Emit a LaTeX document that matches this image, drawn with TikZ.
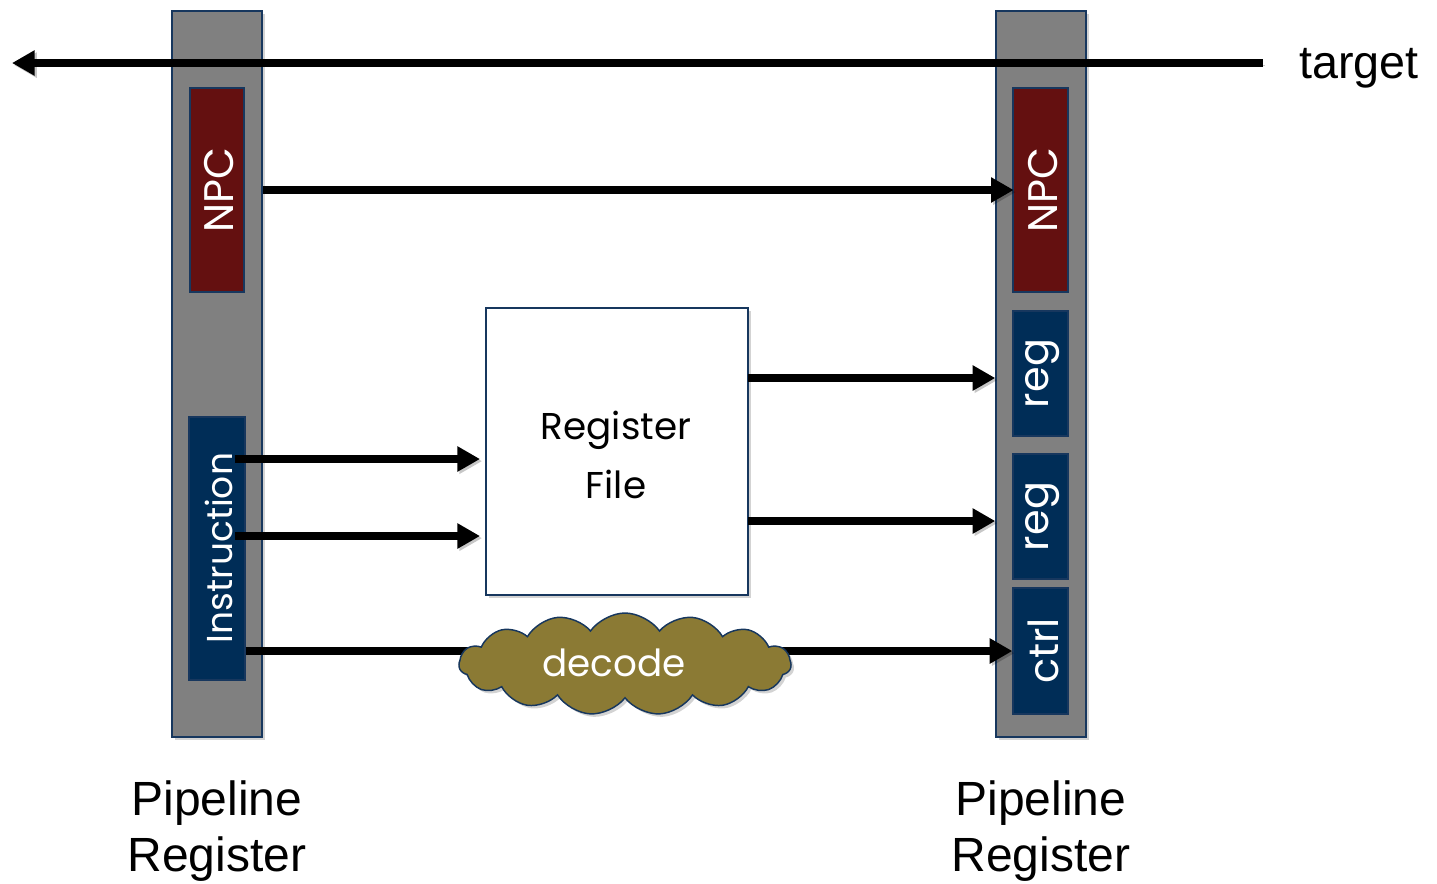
\documentclass[tikz,border=0pt]{standalone}
\usepackage{fontspec}
\setmainfont{Liberation Sans}
\newfontfamily\geo{Poppins}
\usetikzlibrary{arrows.meta,shapes.symbols,shadows}

\definecolor{edgeblue}{RGB}{23,55,94}
\definecolor{bargray}{RGB}{128,128,128}
\definecolor{npcred}{RGB}{100,16,16}
\definecolor{navy}{RGB}{0,45,87}
\definecolor{olive}{RGB}{139,122,52}

\tikzset{
  softshadow/.style={drop shadow={opacity=0.35,shadow xshift=2.2pt,shadow yshift=-2.2pt}},
  regbar/.style={draw=edgeblue, line width=1.1pt, fill=bargray, inner sep=0pt, softshadow},
  cell/.style={draw=edgeblue, line width=1pt, inner sep=0pt, softshadow},
  npccell/.style={cell, fill=npcred},
  navycell/.style={cell, fill=navy},
  vtext/.style={rotate=90, text=white, inner sep=0pt, font=\geo\fontsize{31}{34}\selectfont},
  caption/.style={align=center, font=\fontsize{36}{42.5}\selectfont},
  link/.style={line width=6.3pt, -{Triangle[length=17pt,width=18pt]},
    preaction={draw=black, opacity=0.22, transform canvas={xshift=1.6pt,yshift=-1.6pt}}},
}

\begin{document}
\begin{tikzpicture}[x=0.75pt,y=-0.75pt]
\useasboundingbox (0,0) rectangle (1437,883);

% pipeline register bars
\node[regbar, minimum width=90*0.75pt, minimum height=726*0.75pt] (lbar) at (217,374) {};
\node[regbar, minimum width=90*0.75pt, minimum height=726*0.75pt] (rbar) at (1041,374) {};

% left register fields
\node[npccell, minimum width=54*0.75pt, minimum height=204*0.75pt] (lnpc) at (217,190) {};
\node[vtext] (lnpctext) at (219,190) {NPC};
\node[navycell, minimum width=56*0.75pt, minimum height=263*0.75pt] (lins) at (217,548.5) {};
\node[vtext, font=\geo\fontsize{27}{30}\selectfont] (linstext) at (219,548) {Instruction};

% right register fields
\node[npccell, minimum width=55*0.75pt, minimum height=204*0.75pt] (rnpc) at (1040.5,190) {};
\node[vtext] (rnpctext) at (1043,190) {NPC};
\node[navycell, minimum width=55*0.75pt, minimum height=125*0.75pt] (rega) at (1040.5,373.5) {};
\node[vtext] (regatext) at (1043,373.5) {reg};
\node[navycell, minimum width=55*0.75pt, minimum height=125*0.75pt] (regb) at (1040.5,516.5) {};
\node[vtext] (regbtext) at (1043,516.5) {reg};
\node[navycell, minimum width=55*0.75pt, minimum height=126*0.75pt] (ctrl) at (1040.5,651) {};
\node[vtext] (ctrltext) at (1043,651) {ctrl};

% register file
\node[draw=edgeblue, line width=1pt, fill=white, softshadow,
      minimum width=262*0.75pt, minimum height=287*0.75pt] (rf) at (617,451.5) {};
\node[align=center, font=\geo\fontsize{28}{44}\selectfont, inner sep=0pt] (rftext) at (616,455) {Register\\File};

% target line
\coordinate (tstart) at (1263,63);
\coordinate (tend) at (12,63);
\node[anchor=west, font=\fontsize{35}{42}\selectfont, inner sep=0pt] (target) at (1299,68) {target};
\draw[link] (tstart) -- (tend);

% NPC forwarding
\draw[link, shorten >=-1pt] (lbar.east |- rnpc.west) -- (rnpc.west);

% instruction fields into the register file
\coordinate (insa) at (235,459);
\coordinate (insb) at (235,536);
\draw[link, shorten >=4pt] (insa) -- (rf.west |- insa);
\draw[link, shorten >=4pt] (insb) -- (rf.west |- insb);

% register file outputs
\coordinate (rfa) at (748,378);
\coordinate (rfb) at (748,521);
\draw[link] (rfa) -- (rbar.west |- rfa);
\draw[link] (rfb) -- (rbar.west |- rfb);

% decode path
\draw[link] (lins.east |- ctrl.west) -- (ctrl.west);
\node[cloud, cloud puffs=15, cloud puff arc=110, cloud ignores aspect, draw=edgeblue, line width=1.1pt,
      fill=olive, softshadow, minimum width=332*0.75pt, minimum height=102*0.75pt,
      inner sep=0pt] (dec) at (625,664) {};
\node[text=white, font=\geo\fontsize{28}{30}\selectfont, inner sep=0pt] (dectext) at (614,663) {decode};

% captions
\node[caption] (lcap) at (217,831) {Pipeline\\Register};
\node[caption] (rcap) at (1041,831) {Pipeline\\Register};
\end{tikzpicture}
\end{document}
